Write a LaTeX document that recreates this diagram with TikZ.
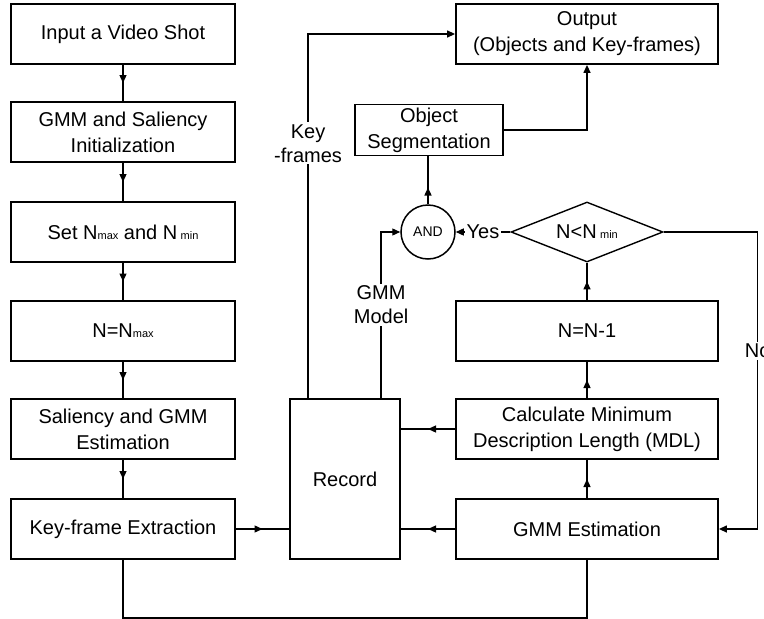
\documentclass[tikz,border=0pt]{standalone}
\usepackage{fontspec}
\setmainfont{Liberation Sans}
\usetikzlibrary{arrows.meta,shapes.geometric,decorations.markings}

% small index such as "max" or "min"
\newcommand\idx[1]{{\fontsize{11}{13}\selectfont #1}}

\begin{document}
\begin{tikzpicture}[x=1pt,y=-1pt,
  >={Triangle[length=8pt,width=7pt]},
  box/.style={draw, line width=1.8pt, align=center, inner sep=0pt,
    minimum width=#1, minimum height=60pt,
    font=\fontsize{20}{26}\selectfont},
  box/.default=224pt,
  conn/.style={line width=1.3pt},
  midarrow/.style={postaction={decorate},
    decoration={markings, mark=at position #1 with {\arrow{>}}}},
  midarrow/.default=0.5,
  lbl/.style={fill=white, inner sep=2pt, align=center,
    font=\fontsize{20}{24}\selectfont}]

\useasboundingbox (0,0) rectangle (764,619);

% left column
\node[box] (in)   at (123,34)  {Input a Video Shot};
\node[box] (init) at (123,132) {GMM and Saliency\\Initialization};
\node[box] (set)  at (123,232) {Set N\idx{max} and N\,\idx{min}};
\node[box] (nmax) at (123,331) {N=N\idx{max}};
\node[box] (sal)  at (123,429) {Saliency and GMM\\Estimation};
\node[box] (kfe)  at (123,529) {Key-frame Extraction};

% record
\node[box=110pt, minimum height=160pt] (rec) at (345,479) {Record};

% right column
\node[box=262pt] (gmm) at (587,529) {GMM Estimation};
\node[box=262pt] (mdl) at (587,429) {Calculate Minimum\\Description Length (MDL)};
\node[box=262pt] (dec) at (587,331) {N=N-1};
\node[diamond, draw, line width=1.4pt, aspect=2.5, inner sep=0pt,
  minimum width=152pt, minimum height=60pt,
  font=\fontsize{20}{24}\selectfont] (dia) at (587,232) {N<N\,\idx{min}};
\node[circle, draw, line width=1.5pt, minimum size=54pt, inner sep=0pt,
  font=\fontsize{14}{16}\selectfont] (and) at (428,232) {AND};
\node[box=148pt, minimum height=51pt] (seg) at (429,130) {Object\\Segmentation};
\node[box=262pt] (out) at (587,34) {Output\\(Objects and Key-frames)};

% main flow
\draw[conn,midarrow] (in) -- (init);
\draw[conn,midarrow] (init) -- (set);
\draw[conn,midarrow] (set) -- (nmax);
\draw[conn,midarrow] (nmax) -- (sal);
\draw[conn,midarrow] (sal) -- (kfe);
\draw[conn,midarrow] (kfe.east) -- (rec.west |- kfe.east);
\draw[conn] (kfe.south) -- ++(0,58) -| (gmm.south);

% estimation loop
\draw[conn,midarrow] (gmm.west) -- (rec.east |- gmm.west);
\draw[conn,midarrow] (mdl.west) -- (rec.east |- mdl.west);
\draw[conn,midarrow] (gmm) -- (mdl);
\draw[conn,midarrow] (mdl) -- (dec);
\draw[conn,midarrow] (dec) -- (dia);
\draw[conn,->] (dia.west) -- node[lbl]{Yes} (and.east);
\draw[conn,->] (dia.east) -- ++(94,0) |- node[lbl,pos=0.2]{No} (gmm.east);

% outputs
\draw[conn,midarrow=0.35] (and) -- (and |- seg.south);
\draw[conn,->] (seg.east) -| (out.south);
\draw[conn,->] ([xshift=19pt]rec.north west) |- node[lbl,pos=0.35]{Key\\-frames} (out.west);
\draw[conn,->] ([xshift=92pt]rec.north west) |- node[lbl,pos=0.28]{GMM\\Model} (and.west);

\end{tikzpicture}
\end{document}
